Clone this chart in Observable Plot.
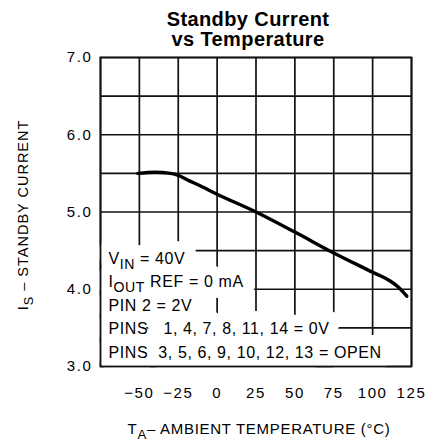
<!DOCTYPE html>
<html>
<head>
<meta charset="utf-8">
<script src="https://cdn.jsdelivr.net/npm/d3@7"></script>
<script src="https://cdn.jsdelivr.net/npm/@observablehq/plot@0.6"></script>
<style>
  html, body { margin: 0; padding: 0; background: #fff; overflow: hidden; }
  #wrap { position: relative; width: 431px; height: 444px; }
  #title {
    position: absolute; left: 98px; top: 9px; width: 300px;
    text-align: center; white-space: nowrap;
    font-family: "Liberation Sans", Arial, sans-serif; font-weight: bold;
    font-size: 20px; line-height: 20px; letter-spacing: 0.4px; color: #000;
  }
  #chart { position: absolute; left: 0; top: 0; }
</style>
</head>
<body>
<div id="wrap">
  <div id="chart"></div>
  <div id="title">Standby Current<br>vs Temperature</div>
</div>
<script>
// ---- data ----
const temps   = [-51, -40, -30, -25, -20, -10, 0, 25, 50, 75, 100, 111, 117, 122];
const current = [5.50, 5.515, 5.50, 5.475, 5.425, 5.33, 5.23, 5.00, 4.74, 4.47, 4.22, 4.11, 4.02, 3.91];

const xTicks = [-50, -25, 0, 25, 50, 75, 100, 125];
const xGrid  = [-75, -50, -25, 0, 25, 50, 75, 100, 125];
const yTicks = [3, 4, 5, 6, 7];
const yGrid  = [3, 3.5, 4, 4.5, 5, 5.5, 6, 6.5, 7];

const xLabel = "T_{A}– AMBIENT TEMPERATURE (°C)";
const yLabel = "I_{S} – STANDBY CURRENT";
const notes = [
  "V_{IN} = 40V",
  "I_{OUT} REF = 0 mA",
  "PIN 2 = 2V",
  "PINS   1, 4, 7, 8, 11, 14 = 0V",
  "PINS  3, 5, 6, 9, 10, 12, 13 = OPEN"
];

const series = temps.map((t, i) => ({t, v: current[i]}));
const ink = "#111";
const noteOpts = {
  frameAnchor: "bottom-left", textAnchor: "start", lineAnchor: "bottom",
  lineHeight: 1.46, dx: 8, dy: -9, fontSize: 16
};

const plot = Plot.plot({
  width: 431,
  height: 444,
  marginLeft: 100,
  marginRight: 20,
  marginTop: 57,
  marginBottom: 78,
  style: {
    fontFamily: "'Liberation Sans', Arial, sans-serif",
    fontSize: "15px",
    letterSpacing: "1.6px",
    color: "#000",
    background: "#fff",
    overflow: "visible"
  },
  x: {domain: [-75, 125], ticks: xTicks, tickSize: 0, tickPadding: 21, label: null},
  y: {domain: [3, 7], ticks: yTicks, tickSize: 0, tickPadding: 8, tickFormat: d3.format(".1f"), label: null},
  marks: [
    Plot.ruleX(xGrid, {stroke: ink, strokeWidth: 1.7}),
    Plot.ruleY(yGrid, {stroke: ink, strokeWidth: 1.7}),
    // white backing behind the note block
    Plot.text([notes.join("\n")], {...noteOpts, fill: "#fff", stroke: "#fff", strokeWidth: 22, strokeLinejoin: "round"}),
    Plot.text([notes.join("\n")], {...noteOpts, fill: "#000"}),
    Plot.line(series, {x: "t", y: "v", curve: "monotone-x", stroke: "#000", strokeWidth: 3.4}),
    Plot.frame({stroke: ink, strokeWidth: 1.8}),
    Plot.text([xLabel], {frameAnchor: "bottom", textAnchor: "middle", dy: 67, dx: 3, fontSize: 15}),
    Plot.text([yLabel], {frameAnchor: "left", textAnchor: "middle", rotate: -90, dx: -77, dy: 3, fontSize: 14.5})
  ]
});

// per-block letter spacing (text mark groups in order: backing, notes, x label, y label)
const textGroups = plot.querySelectorAll('g[aria-label="text"]');
const spacing = ["0.6px", "0.6px", "0.7px", "1px"];
textGroups.forEach((g, i) => { g.style.letterSpacing = spacing[i] || "1px"; });

// turn "_{...}" into lowered subscript tspans
function subscripts(root) {
  const NS = "http://www.w3.org/2000/svg";
  root.querySelectorAll("text, tspan").forEach(el => {
    if (el.children.length) return;
    const s = el.textContent;
    if (!s.includes("_{")) return;
    el.textContent = "";
    const re = /_\{([^}]*)\}/g;
    let last = 0, m;
    while ((m = re.exec(s))) {
      const pre = document.createElementNS(NS, "tspan");
      pre.textContent = s.slice(last, m.index);
      if (last > 0) pre.setAttribute("dy", "-5");
      el.appendChild(pre);
      const sub = document.createElementNS(NS, "tspan");
      sub.textContent = m[1];
      sub.setAttribute("dy", "5");
      sub.setAttribute("font-size", "88%");
      el.appendChild(sub);
      last = re.lastIndex;
    }
    const post = document.createElementNS(NS, "tspan");
    post.textContent = s.slice(last);
    post.setAttribute("dy", "-5");
    el.appendChild(post);
  });
}
subscripts(plot);
document.getElementById("chart").appendChild(plot);
</script>
</body>
</html>
